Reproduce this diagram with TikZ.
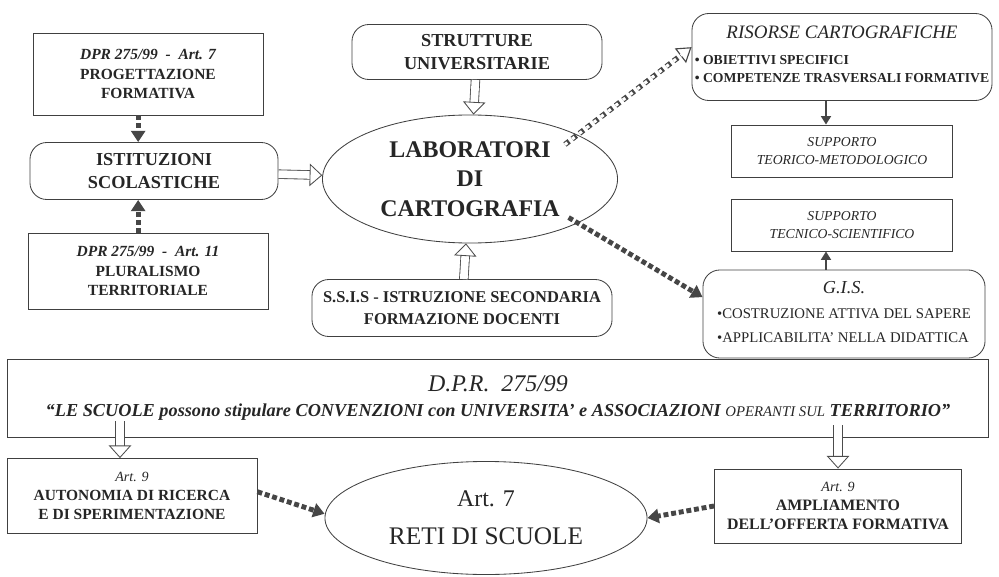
\documentclass[tikz,border=0pt]{standalone}
\usepackage{fontspec}
\setmainfont{Liberation Serif}
\usetikzlibrary{arrows.meta, shapes.geometric, calc}

\begin{document}
\begin{tikzpicture}[x=0.025cm, y=-0.025cm, every node/.style={text=black!85}]

\tikzset{box/.style = {draw=black!75, line width=0.6pt, align=center, inner sep=2pt}}
\tikzset{rbox/.style = {box, rounded corners=12pt}}
\tikzset{oval/.style = {draw=black!75, line width=0.6pt, ellipse, align=center, inner sep=0pt}}
\tikzset{thickdash/.style = {draw=gray!55!black, line width=3.5pt, dash pattern=on 3.5pt off 2pt, -{Triangle[length=8pt,width=10pt]}}}
\tikzset{opendash/.style = {draw=white, line width=2.2pt, dash pattern=on 2.2pt off 4.3pt, dash phase=5.7pt, shorten >=9pt,
  preaction={draw=gray!55!black, line width=3.8pt, dash pattern=on 3.8pt off 2.7pt, shorten >=0pt, -{Triangle[open,line width=0.8pt,length=10pt,width=13pt]}}}}
\tikzset{solidarrow/.style = {draw=gray!55!black, line width=1.6pt, -{Triangle[length=6pt,width=7pt]}}}
\tikzset{block/.style = {draw=gray!60!black, line width=0.6pt, double=white, double distance=5.5pt, -{Triangle[open,length=9pt,width=16pt]}}}

\useasboundingbox (0,0) rectangle (999,577);

%left column
\node[box, minimum width=5.75cm, minimum height=2.05cm, font=\fontsize{11}{14}\selectfont\bfseries] (prog) at (148,74)
  {\itshape DPR 275/99 \ - \ Art. 7\\ PROGETTAZIONE\\ FORMATIVA};
\node[rbox, minimum width=6.2cm, minimum height=1.425cm, font=\fontsize{13}{16}\selectfont\bfseries] (ist) at (154,171)
  {ISTITUZIONI\\ SCOLASTICHE};
\node[box, minimum width=6cm, minimum height=1.9cm, font=\fontsize{11}{14}\selectfont\bfseries] (plur) at (148,271)
  {\itshape DPR 275/99 \ - \ Art. 11\\ PLURALISMO\\ TERRITORIALE};

%middle column
\node[rbox, minimum width=6.25cm, minimum height=1.375cm, font=\fontsize{13}{16}\selectfont\bfseries] (strut) at (477,52)
  {STRUTTURE\\ UNIVERSITARIE};
\node[oval, minimum width=7.375cm, minimum height=3.2cm, font=\fontsize{17}{21}\selectfont\bfseries] (lab) at (470,179)
  {LABORATORI\\ DI\\ CARTOGRAFIA};
\node[rbox, minimum width=7.5cm, minimum height=1.425cm, font=\fontsize{11.7}{15.5}\selectfont\bfseries] (ssis) at (462,308)
  {S.S.I.S - ISTRUZIONE SECONDARIA\\ FORMAZIONE DOCENTI};

%right column
\node[rbox, minimum width=7.5cm, minimum height=2.175cm, font=\fontsize{9.75}{13}\selectfont] (ris) at (842,57)
  {\begin{tabular}{@{}l@{}}
   \multicolumn{1}{@{}c@{}}{\fontsize{13.5}{18}\selectfont\itshape RISORSE CARTOGRAFICHE}\\[5pt]
   \textbf{\textbullet\ OBIETTIVI SPECIFICI}\\
   \textbf{\textbullet\ COMPETENZE TRASVERSALI FORMATIVE}
  \end{tabular}};
\node[box, minimum width=5.525cm, minimum height=1.3cm, font=\fontsize{9.75}{12.5}\selectfont\itshape] (teo) at (842,151)
  {SUPPORTO\\ TEORICO-METODOLOGICO};
\node[box, minimum width=5.525cm, minimum height=1.3cm, font=\fontsize{9.75}{12.5}\selectfont\itshape] (tec) at (842,225)
  {SUPPORTO\\ TECNICO-SCIENTIFICO};
\node[rbox, minimum width=7.05cm, minimum height=2.2cm, font=\fontsize{10.5}{13}\selectfont] (gis) at (844,314)
  {\begin{tabular}{@{}l@{}}
   \multicolumn{1}{@{}c@{}}{\fontsize{13}{16}\selectfont\itshape G.I.S.}\\[5pt]
   \textbullet COSTRUZIONE ATTIVA DEL SAPERE\\[4pt]
   \textbullet APPLICABILITA’ NELLA DIDATTICA
  \end{tabular}};

%bottom part
\node[box, minimum width=24.5cm, minimum height=1.95cm, font=\fontsize{13}{18}\selectfont\bfseries\itshape] (dpr) at (498,398)
  {{\fontsize{17}{18}\selectfont\mdseries D.P.R. \ 275/99}\\
   “LE SCUOLE possono stipulare CONVENZIONI con UNIVERSITA’ e ASSOCIAZIONI {\fontsize{10.5}{18}\selectfont\mdseries OPERANTI SUL} TERRITORIO”};
\node[box, minimum width=6.25cm, minimum height=1.875cm, font=\fontsize{11}{13.5}\selectfont\bfseries] (aut) at (132,496)
  {{\fontsize{10}{13.5}\selectfont\mdseries\itshape Art. 9}\\ AUTONOMIA DI RICERCA\\ E DI SPERIMENTAZIONE};
\node[oval, minimum width=8.05cm, minimum height=2.825cm, font=\fontsize{18}{27}\selectfont] (reti) at (486,518)
  {{\fontsize{17}{27}\selectfont Art. 7}\\ RETI DI SCUOLE};
\node[box, minimum width=6.175cm, minimum height=1.85cm, font=\fontsize{11.3}{13.5}\selectfont\bfseries] (amp) at (838,506)
  {{\fontsize{10}{13.5}\selectfont\mdseries\itshape Art. 9}\\ AMPLIAMENTO\\ DELL’OFFERTA FORMATIVA};

%edges
\draw[thickdash] ([xshift=-7pt]prog.south) -- ([xshift=-7pt]prog.south |- ist.north);
\draw[thickdash] ([xshift=-7pt]plur.north) -- ([xshift=-7pt]plur.north |- ist.south);
\draw[block] (ist) -- (lab);
\draw[block] (strut) -- (lab);
\draw[block] (ssis) -- (lab);
\draw[opendash] ([xshift=-0.8cm]lab.15) -- ([yshift=7pt]ris.west);
\draw[thickdash] ([xshift=-0.5cm]lab.-18) -- ([yshift=12pt]gis.west);
\draw[solidarrow] ([xshift=-0.4cm]ris.south) -- ([xshift=-0.4cm]ris.south |- teo.north);
\draw[solidarrow] ([xshift=-0.45cm]gis.north) -- ([xshift=-0.45cm]gis.north |- tec.south);
\draw[block] ($(aut.north |- dpr.south)+(-0.3cm,0.4cm)$) -- ([xshift=-0.3cm]aut.north);
\draw[block] ($(amp.north |- dpr.south)+(0,0.3cm)$) -- (amp.north);
\draw[thickdash] ([yshift=3pt]aut.east) -- ([yshift=3pt]reti.west);
\draw[thickdash] (amp.west) -- (reti.east);

\end{tikzpicture}
\end{document}
